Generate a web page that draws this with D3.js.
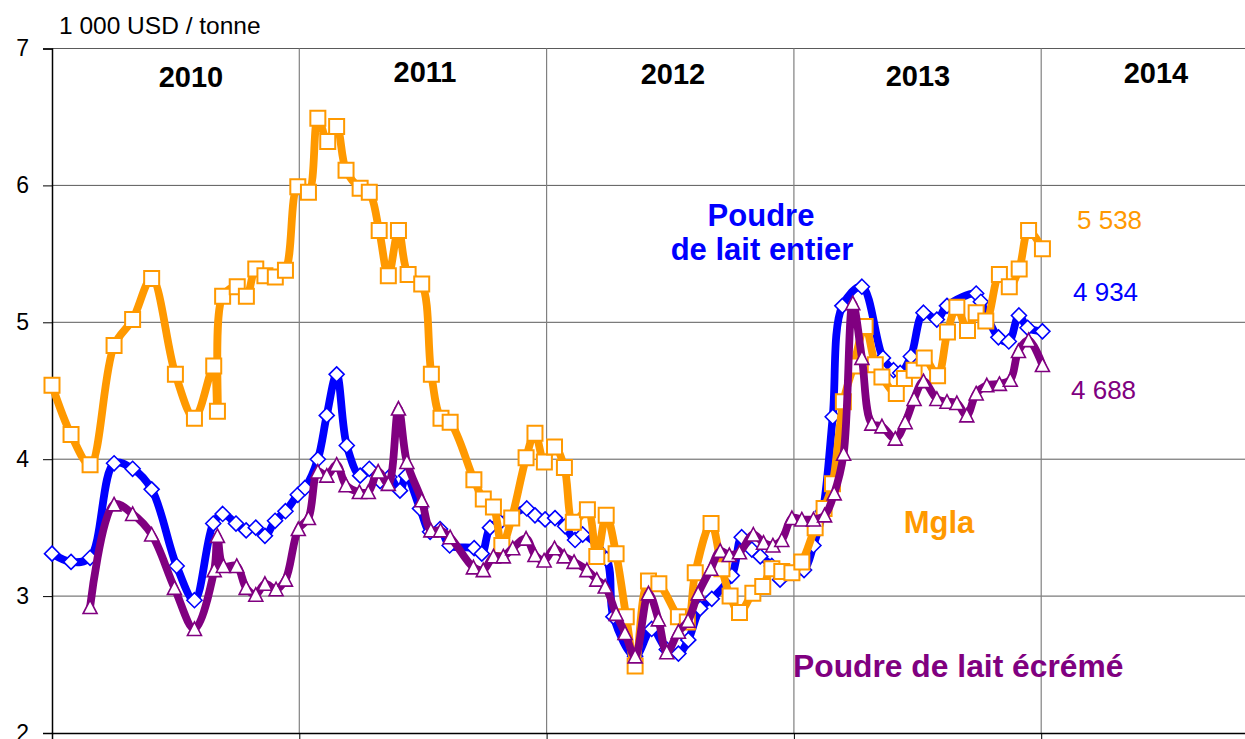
<!DOCTYPE html>
<html>
<head>
<meta charset="utf-8">
<script src="https://cdn.jsdelivr.net/npm/d3@7"></script>
<style>
  html, body { margin: 0; padding: 0; background: #fff; }
  svg { display: block; font-family: "Liberation Sans", Arial, sans-serif; }
</style>
</head>
<body>
<svg id="chart" width="1245" height="739"></svg>
<script>
// ---------------- DATA ----------------
const unitLabel = "1 000 USD / tonne";
const years = [2010, 2011, 2012, 2013, 2014];
const yTicks = [2, 3, 4, 5, 6, 7];
const seriesNames = ["Poudre de lait entier", "Mgla", "Poudre de lait écrémé"];

// [decimal year, 1 000 USD / tonne]
const wmp = [
  [2010.000,3.31],[2010.077,3.25],[2010.154,3.28],[2010.251,3.97],[2010.326,3.93],
  [2010.403,3.78],[2010.504,3.22],[2010.576,2.97],[2010.652,3.53],[2010.690,3.60],
  [2010.744,3.53],[2010.785,3.48],[2010.824,3.50],[2010.861,3.44],[2010.902,3.55],
  [2010.944,3.62],[2010.994,3.74],[2011.023,3.79],[2011.075,4.00],[2011.111,4.32],
  [2011.151,4.62],[2011.192,4.10],[2011.246,3.88],[2011.283,3.93],[2011.327,3.84],
  [2011.364,3.87],[2011.407,3.77],[2011.432,3.88],[2011.488,3.64],[2011.529,3.47],
  [2011.569,3.49],[2011.608,3.37],[2011.707,3.35],[2011.738,3.31],[2011.771,3.50],
  [2011.812,3.54],[2011.920,3.64],[2011.953,3.59],[2011.994,3.56],[2012.034,3.57],
  [2012.075,3.51],[2012.115,3.41],[2012.146,3.45],[2012.243,3.27],[2012.270,2.85],
  [2012.358,2.56],[2012.425,2.76],[2012.486,2.61],[2012.533,2.58],[2012.573,2.68],
  [2012.621,2.91],[2012.668,2.98],[2012.749,3.15],[2012.789,3.43],[2012.830,3.34],
  [2012.864,3.29],[2012.911,3.22],[2012.944,3.12],[2012.998,3.17],[2013.041,3.19],
  [2013.079,3.37],[2013.117,3.62],[2013.157,4.31],[2013.196,5.12],[2013.275,5.26],
  [2013.360,4.74],[2013.403,4.65],[2013.430,4.63],[2013.473,4.75],[2013.524,5.07],
  [2013.578,5.02],[2013.619,5.12],[2013.737,5.21],[2013.756,5.15],[2013.827,4.89],
  [2013.869,4.86],[2013.910,5.05],[2013.945,4.96],[2014.005,4.934]
];
const amf = [
  [2010.000,4.54],[2010.077,4.18],[2010.154,3.96],[2010.251,4.83],[2010.326,5.02],
  [2010.403,5.32],[2010.499,4.62],[2010.576,4.30],[2010.654,4.68],[2010.669,4.35],
  [2010.690,5.19],[2010.749,5.26],[2010.786,5.19],[2010.824,5.39],[2010.861,5.34],
  [2010.903,5.33],[2010.944,5.38],[2010.994,5.99],[2011.037,5.95],[2011.075,6.49],
  [2011.115,6.32],[2011.151,6.43],[2011.189,6.11],[2011.246,5.98],[2011.283,5.95],
  [2011.323,5.67],[2011.360,5.34],[2011.401,5.67],[2011.440,5.35],[2011.495,5.28],
  [2011.534,4.62],[2011.573,4.30],[2011.610,4.27],[2011.706,3.85],[2011.744,3.71],
  [2011.785,3.65],[2011.819,3.37],[2011.859,3.57],[2011.917,4.01],[2011.953,4.19],
  [2011.991,3.98],[2012.032,4.09],[2012.072,3.94],[2012.108,3.54],[2012.165,3.63],
  [2012.203,3.29],[2012.241,3.59],[2012.281,3.31],[2012.322,2.85],[2012.358,2.49],
  [2012.412,3.11],[2012.454,3.09],[2012.533,2.85],[2012.569,2.81],[2012.601,3.17],
  [2012.665,3.53],[2012.709,3.20],[2012.742,3.00],[2012.780,2.88],[2012.834,3.02],
  [2012.874,3.07],[2012.911,3.20],[2012.951,3.18],[2012.992,3.17],[2013.032,3.25],
  [2013.086,3.50],[2013.122,3.64],[2013.156,3.82],[2013.200,4.42],[2013.241,4.68],
  [2013.288,4.97],[2013.329,4.69],[2013.356,4.60],[2013.414,4.48],[2013.447,4.59],
  [2013.486,4.65],[2013.527,4.74],[2013.581,4.61],[2013.621,4.93],[2013.659,5.11],
  [2013.702,4.94],[2013.737,5.07],[2013.776,5.01],[2013.831,5.35],[2013.871,5.26],
  [2013.911,5.39],[2013.949,5.67],[2014.005,5.538]
];
const smp = [
  [2010.154,2.92],[2010.251,3.67],[2010.326,3.60],[2010.403,3.45],[2010.495,3.06],
  [2010.576,2.76],[2010.656,3.19],[2010.669,3.44],[2010.693,3.22],[2010.747,3.22],
  [2010.785,3.06],[2010.824,3.01],[2010.861,3.09],[2010.906,3.05],[2010.944,3.12],
  [2010.996,3.49],[2011.037,3.57],[2011.075,3.91],[2011.111,3.88],[2011.151,3.96],
  [2011.189,3.81],[2011.243,3.76],[2011.279,3.76],[2011.319,3.91],[2011.360,3.82],
  [2011.401,4.37],[2011.435,3.98],[2011.495,3.70],[2011.532,3.48],[2011.571,3.48],
  [2011.610,3.43],[2011.704,3.21],[2011.744,3.19],[2011.785,3.29],[2011.825,3.29],
  [2011.863,3.35],[2011.917,3.42],[2011.953,3.30],[2011.990,3.26],[2012.032,3.35],
  [2012.071,3.29],[2012.111,3.25],[2012.163,3.19],[2012.203,3.12],[2012.237,3.07],
  [2012.281,2.87],[2012.317,2.73],[2012.358,2.56],[2012.412,3.02],[2012.452,2.83],
  [2012.486,2.59],[2012.533,2.74],[2012.572,2.82],[2012.613,3.02],[2012.664,3.20],
  [2012.702,3.33],[2012.739,3.30],[2012.780,3.32],[2012.836,3.45],[2012.877,3.39],
  [2012.915,3.37],[2012.951,3.41],[2012.992,3.57],[2013.032,3.56],[2013.079,3.56],
  [2013.124,3.59],[2013.163,3.75],[2013.201,4.04],[2013.238,5.14],[2013.275,4.74],
  [2013.315,4.26],[2013.356,4.24],[2013.410,4.15],[2013.450,4.27],[2013.486,4.44],
  [2013.524,4.57],[2013.578,4.44],[2013.619,4.42],[2013.659,4.41],[2013.699,4.32],
  [2013.737,4.48],[2013.780,4.54],[2013.831,4.55],[2013.875,4.58],[2013.908,4.79],
  [2013.949,4.87],[2014.005,4.688]
];
const lastValues = [5538, 4934, 4688]; // Mgla, entier, écrémé

// ---------------- LAYOUT ----------------
const W = 1245, H = 739;
const svg = d3.select("#chart");
const x = d3.scaleLinear().domain([2010, 2015]).range([52, 52 + 5 * 247.3]);
const y = d3.scaleLinear().domain([2, 7]).range([733, 48.5]);

const COLORS = { wmp: "#0000FF", amf: "#FF9900", smp: "#800080" };
const gridColor = "#5a5a5a";

// gridlines horizontal
svg.append("g").selectAll("line").data(yTicks.filter(d => d > 2)).join("line")
  .attr("x1", x(2010)).attr("x2", W)
  .attr("y1", d => y(d)).attr("y2", d => y(d))
  .attr("stroke", gridColor).attr("stroke-width", 1);

// gridlines vertical (year boundaries)
svg.append("g").selectAll("line").data(years.slice(1).concat([2015])).join("line")
  .attr("x1", d => x(d)).attr("x2", d => x(d))
  .attr("y1", y(7)).attr("y2", y(2))
  .attr("stroke", "#808080").attr("stroke-width", 1.2);

// axes
const yAxis = d3.axisLeft(y).tickValues(yTicks).tickSize(9).tickPadding(14).tickFormat(d3.format("d"));
const gy = svg.append("g").attr("transform", `translate(${x(2010)},0)`).call(yAxis);
gy.select(".domain").attr("stroke", "#000").attr("stroke-width", 1.5);
gy.selectAll(".tick line").attr("stroke", "#000");
gy.selectAll(".tick text").attr("font-size", 23).attr("fill", "#000")
  .attr("font-family", '"Liberation Sans", Arial, sans-serif');

const xAxis = d3.axisBottom(x).tickValues(years.concat([2015])).tickSize(7).tickFormat("");
const gx = svg.append("g").attr("transform", `translate(0,${y(2)})`).call(xAxis);
gx.select(".domain").attr("stroke", "#000").attr("stroke-width", 1.5);
gx.selectAll(".tick line").attr("stroke", "#000");

// unit label
svg.append("text").attr("x", 59).attr("y", 34).attr("font-size", 24.5).attr("fill", "#000")
  .text(unitLabel);

// year labels
const yearLabelPos = [[191, 87], [425, 82], [673, 84], [918, 86], [1156, 83]];
svg.append("g").selectAll("text").data(years).join("text")
  .attr("x", (d, i) => yearLabelPos[i][0]).attr("y", (d, i) => yearLabelPos[i][1])
  .attr("text-anchor", "middle").attr("font-size", 29).attr("font-weight", "bold")
  .attr("fill", "#000").text(d => d);

// series
const line = d3.line().x(d => x(d[0])).y(d => y(d[1])).curve(d3.curveCatmullRom.alpha(0.5));

const diamond = "M0,-7.5L7.5,0L0,7.5L-7.5,0Z";
const square = "M-7.5,-7.5H7.5V7.5H-7.5Z";
const triangle = "M0,-7L7,6.5H-7Z";

function drawSeries(data, color, marker, sw) {
  const g = svg.append("g");
  g.append("path").datum(data).attr("d", line)
    .attr("fill", "none").attr("stroke", color).attr("stroke-width", 7.8)
    .attr("stroke-linejoin", "round").attr("stroke-linecap", "round");
  g.selectAll("path.m").data(data).join("path").attr("class", "m")
    .attr("d", marker)
    .attr("transform", d => `translate(${x(d[0])},${y(d[1])})`)
    .attr("fill", "#fff").attr("stroke", color).attr("stroke-width", sw);
}
drawSeries(wmp, COLORS.wmp, diamond, 1.6);
drawSeries(amf, COLORS.amf, square, 2);
drawSeries(smp, COLORS.smp, triangle, 1.6);

// series labels
const lab = svg.append("g").attr("font-weight", "bold");
lab.append("text").attr("x", 761).attr("y", 226).attr("text-anchor", "middle").attr("font-size", 31)
  .attr("fill", COLORS.wmp).text("Poudre");
lab.append("text").attr("x", 762).attr("y", 260).attr("text-anchor", "middle").attr("font-size", 31)
  .attr("fill", COLORS.wmp).text("de lait entier");
lab.append("text").attr("x", 939).attr("y", 533).attr("text-anchor", "middle").attr("font-size", 31)
  .attr("fill", COLORS.amf).text(seriesNames[1]);
lab.append("text").attr("x", 793).attr("y", 677).attr("text-anchor", "start").attr("font-size", 31.8)
  .attr("fill", COLORS.smp).text(seriesNames[2]);

// last value labels
const fr = d3.formatLocale({ decimal: ",", thousands: " ", grouping: [3], currency: ["", ""] });
const fmt = fr.format(",d");
const valPos = [[1077, 229, COLORS.amf], [1073, 301, COLORS.wmp], [1071, 399, COLORS.smp]];
svg.append("g").selectAll("text").data(lastValues).join("text")
  .attr("x", (d, i) => valPos[i][0]).attr("y", (d, i) => valPos[i][1])
  .attr("font-size", 26).attr("fill", (d, i) => valPos[i][2])
  .text(d => fmt(d));
</script>
</body>
</html>
